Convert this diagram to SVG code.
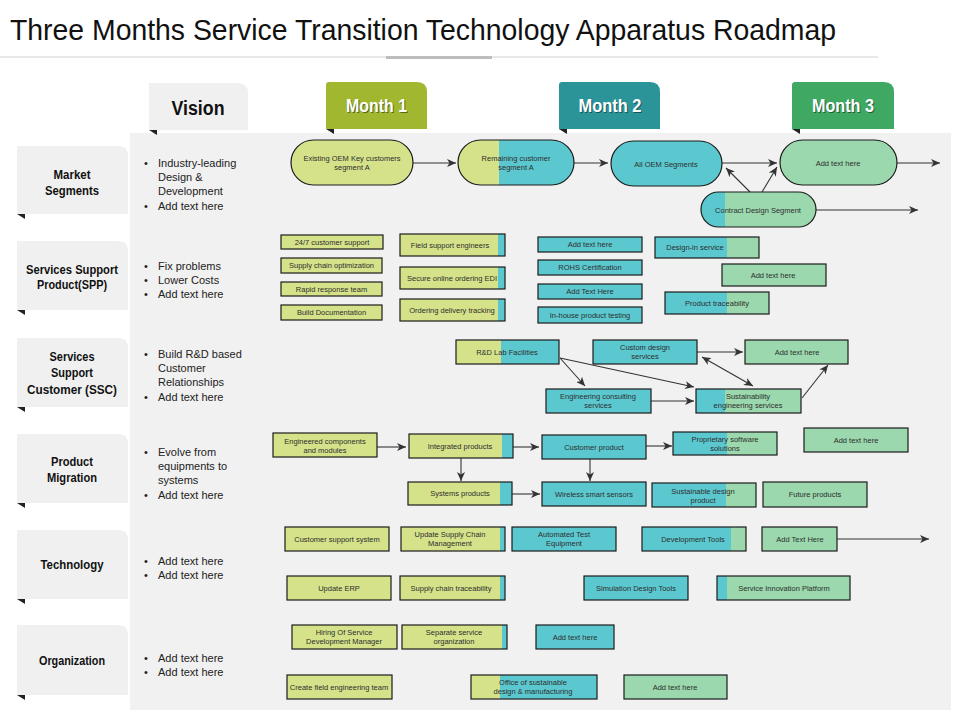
<svg xmlns="http://www.w3.org/2000/svg" width="960" height="720" viewBox="0 0 960 720">
<style>
.yg{fill:#d5e28a}.cy{fill:#5bc8d0}.mt{fill:#9bd8ad}
.ol{fill:none;stroke:#1c1c1c;stroke-width:1.2}
.bx{stroke:#1c1c1c;stroke-width:1.2}
.t{font-family:"Liberation Sans",Arial,sans-serif;font-size:7.5px;fill:#2e2e2e;text-anchor:middle}
.lab{font-family:"Liberation Sans Narrow","Liberation Sans",Arial,sans-serif;font-weight:bold;font-size:12.5px;fill:#111;text-anchor:middle}
.bul{font-family:"Liberation Sans",Arial,sans-serif;font-size:11px;fill:#222}
.mon{font-family:"Liberation Sans Narrow","Liberation Sans",Arial,sans-serif;font-weight:bold;font-size:18px;fill:#fff;text-anchor:middle}
.sh{font-family:"Liberation Sans Narrow","Liberation Sans",Arial,sans-serif;font-weight:bold;font-size:18px;fill:#000;fill-opacity:0.45;text-anchor:middle}
.tab{fill:#f0f0f0}
.fold{fill:#222}
.cn{fill:none;stroke:#333;stroke-width:1.1;marker-end:url(#ah)}
</style>
<defs>
<marker id="ah" markerUnits="userSpaceOnUse" markerWidth="9" markerHeight="8" refX="9" refY="4" orient="auto-start-reverse">
<path d="M0,0 L9,4 L0,8 L2.5,4 z" fill="#333"/>
</marker>
<clipPath id="cpRem"><rect x="458" y="140" width="41" height="45"/></clipPath>
<clipPath id="cpCon"><rect x="701" y="192" width="24" height="35"/></clipPath>
</defs>

<rect width="960" height="720" fill="#fff"/>
<g id="title">
<text x="10" y="40" font-family="Liberation Sans Narrow,Liberation Sans,Arial,sans-serif" font-size="30" fill="#111" textLength="826" lengthAdjust="spacingAndGlyphs">Three Months Service Transition Technology Apparatus Roadmap</text>
<line x1="0" y1="57" x2="878" y2="57" stroke="#e8e8e8" stroke-width="2"/>
<line x1="386" y1="57.5" x2="492" y2="57.5" stroke="#bdbdbd" stroke-width="3"/>
</g>

<rect id="panel" x="130" y="133" width="821" height="577" fill="#f1f1f1"/>

<g id="vision">
<path class="tab" d="M149,83 H238 Q248,83 248,93 V130 H149 Z"/>
<polygon class="fold" points="149,130 157,130 157,135"/>
<text x="198" y="115" font-family="Liberation Sans Narrow,Liberation Sans,Arial,sans-serif" font-weight="bold" font-size="20" fill="#111" text-anchor="middle" textLength="53" lengthAdjust="spacingAndGlyphs">Vision</text>
</g>
<g id="month1">
<path d="M326,85 Q326,82 329,82 H417 Q427,82 427,92 V129 H326 Z" fill="#a0b72f"/>
<polygon class="fold" points="326,129 334,129 334,134"/>
<text class="sh" x="377.5" y="113" textLength="61" lengthAdjust="spacingAndGlyphs">Month 1</text>
<text class="mon" x="376.5" y="112" textLength="61" lengthAdjust="spacingAndGlyphs">Month 1</text>
</g>
<g id="month2">
<path d="M559,85 Q559,82 562,82 H650 Q660,82 660,92 V129 H559 Z" fill="#2b9499"/>
<polygon class="fold" points="559,129 567,129 567,134"/>
<text class="sh" x="611" y="113" textLength="63" lengthAdjust="spacingAndGlyphs">Month 2</text>
<text class="mon" x="610" y="112" textLength="63" lengthAdjust="spacingAndGlyphs">Month 2</text>
</g>
<g id="month3">
<path d="M792,85 Q792,82 795,82 H884 Q894,82 894,92 V129 H792 Z" fill="#3fa862"/>
<polygon class="fold" points="792,129 800,129 800,134"/>
<text class="sh" x="844" y="113" textLength="62" lengthAdjust="spacingAndGlyphs">Month 3</text>
<text class="mon" x="843" y="112" textLength="62" lengthAdjust="spacingAndGlyphs">Month 3</text>
</g>

<g id="row-labels">
<g id="lab-market">
<path class="tab" d="M17,146 H118 Q128,146 128,156 V214 H17 Z"/>
<polygon class="fold" points="17,214 25,214 25,219"/>
<text class="lab" x="72" y="179" textLength="37" lengthAdjust="spacingAndGlyphs">Market</text>
<text class="lab" x="72" y="195" textLength="54" lengthAdjust="spacingAndGlyphs">Segments</text>
</g>
<g id="lab-spp">
<path class="tab" d="M17,241 H118 Q128,241 128,251 V310 H17 Z"/>
<polygon class="fold" points="17,310 25,310 25,315"/>
<text class="lab" x="72" y="274" textLength="92" lengthAdjust="spacingAndGlyphs">Services Support</text>
<text class="lab" x="72" y="289" textLength="70" lengthAdjust="spacingAndGlyphs">Product(SPP)</text>
</g>
<g id="lab-ssc">
<path class="tab" d="M17,338 H118 Q128,338 128,348 V407 H17 Z"/>
<polygon class="fold" points="17,407 25,407 25,412"/>
<text class="lab" x="72" y="361" textLength="45" lengthAdjust="spacingAndGlyphs">Services</text>
<text class="lab" x="72" y="377" textLength="42" lengthAdjust="spacingAndGlyphs">Support</text>
<text class="lab" x="72" y="394" textLength="90" lengthAdjust="spacingAndGlyphs">Customer (SSC)</text>
</g>
<g id="lab-pm">
<path class="tab" d="M17,434 H118 Q128,434 128,444 V503 H17 Z"/>
<polygon class="fold" points="17,503 25,503 25,508"/>
<text class="lab" x="72" y="466" textLength="42" lengthAdjust="spacingAndGlyphs">Product</text>
<text class="lab" x="72" y="482" textLength="50" lengthAdjust="spacingAndGlyphs">Migration</text>
</g>
<g id="lab-tech">
<path class="tab" d="M17,530 H118 Q128,530 128,540 V599 H17 Z"/>
<polygon class="fold" points="17,599 25,599 25,604"/>
<text class="lab" x="72" y="569" textLength="63" lengthAdjust="spacingAndGlyphs">Technology</text>
</g>
<g id="lab-org">
<path class="tab" d="M17,625 H118 Q128,625 128,635 V695 H17 Z"/>
<polygon class="fold" points="17,695 25,695 25,700"/>
<text class="lab" x="72" y="665" textLength="66" lengthAdjust="spacingAndGlyphs">Organization</text>
</g>
</g>

<g id="vision-bullets" class="bul">
<text x="144" y="167">•</text><text x="158" y="167">Industry-leading</text>
<text x="158" y="181">Design &amp;</text>
<text x="158" y="195">Development</text>
<text x="144" y="210">•</text><text x="158" y="210">Add text here</text>

<text x="144" y="270">•</text><text x="158" y="270">Fix  problems</text>
<text x="144" y="284">•</text><text x="158" y="284">Lower Costs</text>
<text x="144" y="298">•</text><text x="158" y="298">Add text here</text>

<text x="144" y="358">•</text><text x="158" y="358">Build R&amp;D based</text>
<text x="158" y="372">Customer</text>
<text x="158" y="386">Relationships</text>
<text x="144" y="401">•</text><text x="158" y="401">Add text here</text>

<text x="144" y="456">•</text><text x="158" y="456">Evolve from</text>
<text x="158" y="470">equipments to</text>
<text x="158" y="484">systems</text>
<text x="144" y="499">•</text><text x="158" y="499">Add text here</text>

<text x="144" y="565">•</text><text x="158" y="565">Add text here</text>
<text x="144" y="579">•</text><text x="158" y="579">Add text here</text>

<text x="144" y="662">•</text><text x="158" y="662">Add text here</text>
<text x="144" y="676">•</text><text x="158" y="676">Add text here</text>
</g>

<g id="connectors">
<path class="cn" d="M413,163 L456,163"/>
<path class="cn" d="M574,163 L608,163"/>
<path class="cn" d="M722,163 L777,163"/>
<path class="cn" d="M897,163 L940,163"/>
<path class="cn" d="M816,210 L918,210"/>
<path class="cn" d="M750,192 L726,168"/>
<path class="cn" d="M762,192 L777,167"/>
<path class="cn" d="M697,352 L743,352"/>
<path class="cn" d="M560,358 L585,386"/>
<path class="cn" d="M560,358 L694,387"/>
<path class="cn" d="M651,401 L694,401"/>
<path class="cn" d="M702,357 L753,386" marker-start="url(#ah)"/>
<path class="cn" d="M802,398 L828,365"/>
<path class="cn" d="M377,447 L406,447"/>
<path class="cn" d="M513,447 L539,447"/>
<path class="cn" d="M646,446 L672,446"/>
<path class="cn" d="M461,458 L461,481"/>
<path class="cn" d="M590,459 L590,481"/>
<path class="cn" d="M512,494 L540,494"/>
<path class="cn" d="M837,539 L929,539"/>
</g>

<g id="market-nodes">
<g id="n-existing"><rect class="yg bx" x="291" y="140" width="122" height="45" rx="22.5"/><text class="t" x="352" y="160.5">Existing OEM Key  customers</text><text class="t" x="352" y="169.5">segment A</text></g>
<g id="n-remaining"><rect class="cy" x="458" y="140" width="116" height="45" rx="22.5"/><rect class="yg" x="458" y="140" width="116" height="45" rx="22.5" clip-path="url(#cpRem)"/><rect class="ol" x="458" y="140" width="116" height="45" rx="22.5"/><text class="t" x="516" y="160.5">Remaining customer</text><text class="t" x="516" y="169.5">segment A</text></g>
<g id="n-alloem"><rect class="cy bx" x="611" y="141" width="111" height="45" rx="22.5"/><text class="t" x="666" y="166.5">All OEM Segments</text></g>
<g id="n-add-m3"><rect class="mt bx" x="780" y="140" width="117" height="45" rx="22.5"/><text class="t" x="838" y="165.5">Add text here</text></g>
<g id="n-contract"><rect class="mt" x="701" y="192" width="115" height="35" rx="17.5"/><rect class="cy" x="701" y="192" width="115" height="35" rx="17.5" clip-path="url(#cpCon)"/><rect class="ol" x="701" y="192" width="115" height="35" rx="17.5"/><text class="t" x="758" y="212.5">Contract Design Segment</text></g>
</g>

<g id="spp-nodes">
<g id="n-247"><rect class="yg bx" x="281" y="235" width="102" height="14"/><text class="t" x="332" y="244.7">24/7 customer support</text></g>
<g id="n-supply-opt"><rect class="yg bx" x="281" y="258" width="101" height="15"/><text class="t" x="331.5" y="268.2">Supply chain optimization</text></g>
<g id="n-rapid"><rect class="yg bx" x="281" y="282" width="101" height="14"/><text class="t" x="331.5" y="291.7">Rapid response team</text></g>
<g id="n-builddoc"><rect class="yg bx" x="281" y="305" width="101" height="15"/><text class="t" x="331.5" y="315.2">Build Documentation</text></g>
<g id="n-field"><rect class="yg" x="400" y="234" width="105" height="22"/><rect class="cy" x="498" y="234" width="7" height="22"/><rect class="ol" x="400" y="234" width="105" height="22"/><text class="t" x="450" y="247.7">Field support  engineers</text></g>
<g id="n-secure"><rect class="yg" x="400" y="267" width="105" height="22"/><rect class="cy" x="498" y="267" width="7" height="22"/><rect class="ol" x="400" y="267" width="105" height="22"/><text class="t" x="452" y="280.7">Secure online ordering EDI</text></g>
<g id="n-ordering"><rect class="yg" x="400" y="299" width="105" height="22"/><rect class="cy" x="498" y="299" width="7" height="22"/><rect class="ol" x="400" y="299" width="105" height="22"/><text class="t" x="452" y="312.7">Ordering delivery tracking</text></g>
<g id="n-add-spp1"><rect class="cy bx" x="538" y="237" width="104" height="15"/><text class="t" x="590" y="247.2">Add text here</text></g>
<g id="n-rohs"><rect class="cy bx" x="538" y="260" width="104" height="15"/><text class="t" x="590" y="270.2">ROHS Certification</text></g>
<g id="n-addtext-spp2"><rect class="cy bx" x="538" y="284" width="104" height="15"/><text class="t" x="590" y="294.2">Add Text Here</text></g>
<g id="n-inhouse"><rect class="cy bx" x="538" y="307" width="104" height="16"/><text class="t" x="590" y="317.7">In-house product testing</text></g>
<g id="n-designin"><rect class="mt" x="655" y="237" width="104" height="21"/><rect class="cy" x="655" y="237" width="72" height="21"/><rect class="ol" x="655" y="237" width="104" height="21"/><text class="t" x="695" y="250.2">Design-in service</text></g>
<g id="n-add-spp3"><rect class="mt bx" x="722" y="264" width="104" height="22"/><text class="t" x="773" y="277.7">Add text here</text></g>
<g id="n-prodtrace"><rect class="mt" x="665" y="292" width="104" height="22"/><rect class="cy" x="665" y="292" width="62" height="22"/><rect class="ol" x="665" y="292" width="104" height="22"/><text class="t" x="717" y="305.7">Product traceability</text></g>
</g>

<g id="ssc-nodes">
<g id="n-rdlab"><rect class="cy" x="456" y="340" width="103" height="24"/><rect class="yg" x="456" y="340" width="45" height="24"/><rect class="ol" x="456" y="340" width="103" height="24"/><text class="t" x="507" y="354.7">R&amp;D Lab Facilities</text></g>
<g id="n-custom"><rect class="cy bx" x="593" y="340" width="104" height="24"/><text class="t" x="645" y="349.7">Custom  design</text><text class="t" x="645" y="358.7">services</text></g>
<g id="n-add-ssc"><rect class="mt bx" x="745" y="340" width="103" height="24"/><text class="t" x="797" y="354.7">Add text here</text></g>
<g id="n-engcons"><rect class="cy bx" x="546" y="389" width="105" height="24"/><text class="t" x="598" y="398.7">Engineering consulting</text><text class="t" x="598" y="407.7">services</text></g>
<g id="n-sustain"><rect class="mt" x="696" y="389" width="105" height="24"/><rect class="cy" x="696" y="389" width="29" height="24"/><rect class="ol" x="696" y="389" width="105" height="24"/><text class="t" x="748" y="398.7">Sustainability</text><text class="t" x="748" y="407.7">engineering  services</text></g>
</g>

<g id="pm-nodes">
<g id="n-engcomp"><rect class="yg bx" x="273" y="433" width="104" height="24"/><text class="t" x="325" y="443.7">Engineered  components</text><text class="t" x="325" y="452.7">and modules</text></g>
<g id="n-integrated"><rect class="yg" x="409" y="434" width="104" height="24"/><rect class="cy" x="502" y="434" width="11" height="24"/><rect class="ol" x="409" y="434" width="104" height="24"/><text class="t" x="460" y="448.7">Integrated products</text></g>
<g id="n-custprod"><rect class="cy bx" x="542" y="435" width="104" height="24"/><text class="t" x="594" y="449.7">Customer product</text></g>
<g id="n-propsw"><rect class="mt" x="673" y="432" width="104" height="23"/><rect class="cy" x="673" y="432" width="54" height="23"/><rect class="ol" x="673" y="432" width="104" height="23"/><text class="t" x="725" y="441.7">Proprietary software</text><text class="t" x="725" y="450.7">solutions</text></g>
<g id="n-add-pm"><rect class="mt bx" x="804" y="428" width="104" height="24"/><text class="t" x="856" y="442.7">Add text here</text></g>
<g id="n-systems"><rect class="yg" x="408" y="482" width="104" height="23"/><rect class="cy" x="500" y="482" width="12" height="23"/><rect class="ol" x="408" y="482" width="104" height="23"/><text class="t" x="460" y="495.7">Systems products</text></g>
<g id="n-wireless"><rect class="cy bx" x="542" y="482" width="104" height="24"/><text class="t" x="594" y="496.7">Wireless smart sensors</text></g>
<g id="n-sustprod"><rect class="mt" x="652" y="483" width="104" height="24"/><rect class="cy" x="652" y="483" width="74" height="24"/><rect class="ol" x="652" y="483" width="104" height="24"/><text class="t" x="703" y="493.7">Sustainable design</text><text class="t" x="703" y="502.7">product</text></g>
<g id="n-future"><rect class="mt bx" x="763" y="482" width="104" height="25"/><text class="t" x="815" y="497.2">Future products</text></g>
</g>

<g id="tech-nodes">
<g id="n-custsys"><rect class="yg bx" x="285" y="527" width="104" height="24"/><text class="t" x="337" y="541.7">Customer support system</text></g>
<g id="n-updsc"><rect class="yg" x="401" y="527" width="104" height="24"/><rect class="cy" x="500" y="527" width="5" height="24"/><rect class="ol" x="401" y="527" width="104" height="24"/><text class="t" x="450" y="537.2">Update Supply Chain</text><text class="t" x="450" y="546.2">Management</text></g>
<g id="n-ate"><rect class="cy bx" x="512" y="527" width="104" height="24"/><text class="t" x="564" y="536.7">Automated Test</text><text class="t" x="564" y="545.7">Equipment</text></g>
<g id="n-devtools"><rect class="mt" x="642" y="527" width="104" height="24"/><rect class="cy" x="642" y="527" width="89" height="24"/><rect class="ol" x="642" y="527" width="104" height="24"/><text class="t" x="693" y="541.7">Development Tools</text></g>
<g id="n-addtext-tech"><rect class="mt bx" x="762" y="527" width="75" height="24"/><text class="t" x="800" y="541.7">Add Text Here</text></g>
<g id="n-erp"><rect class="yg bx" x="287" y="576" width="104" height="24"/><text class="t" x="339" y="590.7">Update ERP</text></g>
<g id="n-sctrace"><rect class="yg" x="400" y="576" width="105" height="24"/><rect class="cy" x="500" y="576" width="5" height="24"/><rect class="ol" x="400" y="576" width="105" height="24"/><text class="t" x="451" y="590.7">Supply chain traceability</text></g>
<g id="n-simtools"><rect class="cy bx" x="584" y="576" width="104" height="24"/><text class="t" x="636" y="590.7">Simulation Design Tools</text></g>
<g id="n-sip"><rect class="mt" x="717" y="576" width="133" height="24"/><rect class="cy" x="717" y="576" width="10" height="24"/><rect class="ol" x="717" y="576" width="133" height="24"/><text class="t" x="784" y="590.7">Service Innovation Platform</text></g>
</g>

<g id="org-nodes">
<g id="n-hiring"><rect class="yg bx" x="292" y="625" width="105" height="24"/><text class="t" x="344" y="634.7">Hiring Of Service</text><text class="t" x="344" y="643.7">Development Manager</text></g>
<g id="n-sepsvc"><rect class="yg" x="402" y="625" width="105" height="24"/><rect class="cy" x="502" y="625" width="5" height="24"/><rect class="ol" x="402" y="625" width="105" height="24"/><text class="t" x="454" y="634.7">Separate service</text><text class="t" x="454" y="643.7">organization</text></g>
<g id="n-add-org1"><rect class="cy bx" x="536" y="625" width="78" height="24"/><text class="t" x="575" y="639.7">Add text here</text></g>
<g id="n-createfield"><rect class="yg bx" x="287" y="675" width="105" height="24"/><text class="t" x="339" y="689.7">Create field engineering team</text></g>
<g id="n-office"><rect class="cy" x="471" y="675" width="126" height="24"/><rect class="yg" x="471" y="675" width="29" height="24"/><rect class="ol" x="471" y="675" width="126" height="24"/><text class="t" x="533" y="685.2">Office of sustainable</text><text class="t" x="533" y="694.2">design &amp; manufacturing</text></g>
<g id="n-add-org2"><rect class="mt bx" x="624" y="675" width="103" height="24"/><text class="t" x="675" y="689.7">Add text here</text></g>
</g>
</svg>
